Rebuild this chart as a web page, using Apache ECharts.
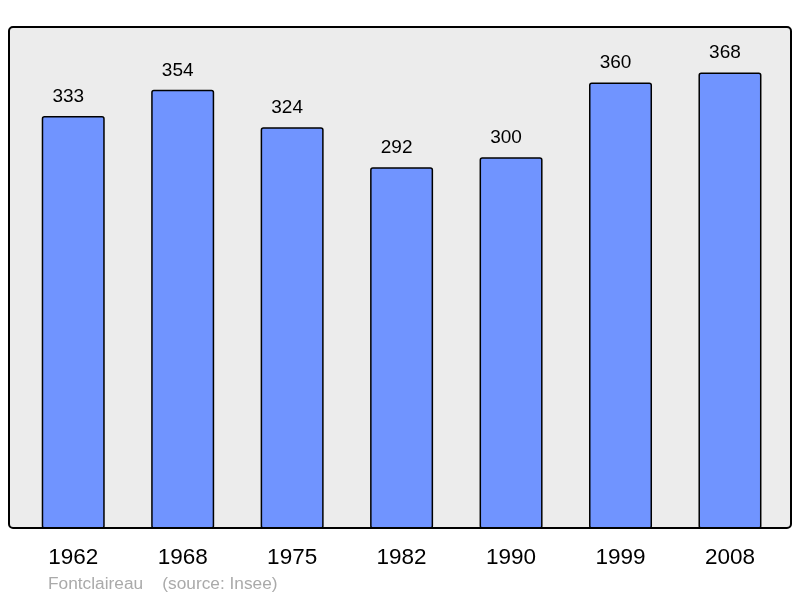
<!DOCTYPE html>
<html>
<head>
<meta charset="utf-8">
<script src="https://cdn.jsdelivr.net/npm/echarts@6/dist/echarts.min.js"></script>
<style>
html,body{margin:0;padding:0;background:#fff;}
#chart{width:800px;height:598px;}
</style>
</head>
<body>
<div id="chart"></div>
<script>
const categories = ['1962', '1968', '1975', '1982', '1990', '1999', '2008'];
const population = [333, 354, 324, 292, 300, 360, 368];
const footerText = 'Fontclaireau    (source: Insee)';

const FONT = '"Liberation Sans", Arial, sans-serif';
const chart = echarts.init(document.getElementById('chart'));
chart.setOption({
  animation: false,
  backgroundColor: '#ffffff',
  grid: { left: 18.5, right: 15.3, top: 27, bottom: 70 },
  xAxis: {
    type: 'category',
    data: categories,
    axisLine: { show: false },
    axisTick: { show: false },
    axisLabel: { color: '#000', fontSize: 22.5, fontFamily: FONT, margin: 18 }
  },
  yAxis: {
    type: 'value',
    min: 2.8,
    max: 404.4,
    show: false,
    splitLine: { show: false }
  },
  graphic: [
    {
      type: 'rect', z: -10, silent: true,
      shape: { x: 9, y: 27, width: 782, height: 501, r: 4 },
      style: { fill: '#ececec', stroke: null }
    },
    {
      type: 'rect', z: 100, silent: true,
      shape: { x: 9, y: 27, width: 782, height: 501, r: 4 },
      style: { fill: null, stroke: '#000', lineWidth: 2 }
    },
    {
      type: 'text', z: 100, silent: true,
      x: 48, y: 584,
      style: { text: footerText, fill: '#aaaaaa', font: '17.3px ' + FONT, verticalAlign: 'middle', align: 'left' }
    }
  ],
  series: [{
    type: 'bar',
    data: population,
    barWidth: 63,
    clip: true,
    itemStyle: { color: '#7094ff', borderColor: '#000', borderWidth: 1.5, borderRadius: 2 },
    label: {
      show: true, position: 'top', distance: 10, offset: [-5, 0],
      color: '#000', fontSize: 19, fontFamily: FONT
    }
  }]
});
</script>
</body>
</html>
